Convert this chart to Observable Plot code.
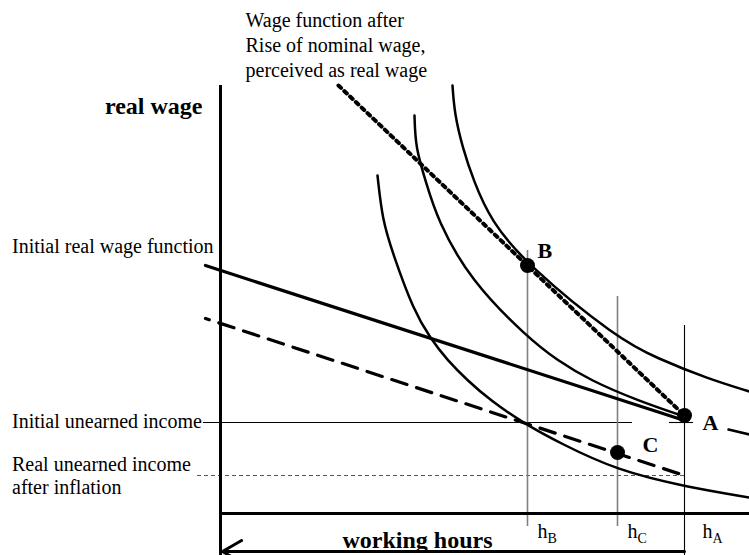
<!DOCTYPE html>
<html><head><meta charset="utf-8">
<script src="https://cdn.jsdelivr.net/npm/d3@7"></script>
<script src="https://cdn.jsdelivr.net/npm/@observablehq/plot@0.6"></script>
<style>html,body{margin:0;padding:0;background:#fff;} #chart svg{display:block;}</style>
</head><body><div id="chart"></div>
<script>
// Units: x = working-time axis (0 at the vertical axis), y = real wage (0 at the horizontal axis)
const indiffLow  = [[31.4,67.6],[32.4,58.6],[34.4,52.2],[38.6,40.6],[42,35],[45.4,30.6],[49.4,26.6],[54,22.6],[60.4,18.2],[68,14],[79.4,8.6],[92.8,5.4],[105.8,3.2]];
const indiffMid  = [[38.8,79.6],[39,73.2],[41,66.6],[43.4,58.6],[50,46.6],[61.4,35.2],[67.4,30.6],[74,26.6],[83.4,22.6],[92.8,19.4]];
const indiffMidTail = [[101.6,16.8],[105.8,15.8]];
const indiffHigh = [[46.4,85.6],[46.8,80],[48.4,73.2],[50.6,66.6],[54,58.6],[61.4,49.6],[79.4,35],[87.4,31],[97.4,27],[105.8,24.4]];
const wageInitial   = [[-3,49.6],[92.8,18.6]];
const wageInflation = [[-3,39],[92.8,7.6]];
const wagePerceived = [[23.6,85.6],[92.8,19.6]];
const unearnedInitial = 18.2;
const unearnedReal = 7.6;
const unearnedInitialSpan = [-3.4, 82.4];
const unearnedAtA = [89.8, 94.6];
const unearnedRealSpan = [-4.6, 92.8];

const pointNames = ["B", "C", "A"];
const pointX = [61.4, 79.4, 92.8];
const pointY = [49.6, 12.2, 19.6];
const pointLabelX = [63.4, 84.4, 96.4];
const pointLabelY = [51.2, 12.4, 16.8];

const hourNames = ["B", "C", "A"];
const hourX = [61.4, 79.4, 92.8];
const hourTop = [52.6, 43.4, 37.6];
const hourBottom = [-2.6, -2.6, -8.4];
const hourLabelX = [63.4, 81.4, 96.4];
const hourSubX = [65.4, 83.4, 98.4];

const axisTop = 85.6, axisBottom = -8.4, axisRight = 105.8;
const arrowY = -7.6;

const noteLines = ["Wage function after", "Rise of nominal wage,", "perceived as real wage"];
const noteY = [97.4, 92.4, 87.4];
const leftLabels = ["Initial real wage function", "Initial unearned income", "Real unearned income", "after inflation"];
const leftLabelY = [52.2, 17.2, 8.6, 4];

const seg = (pts) => pts.map(([x, y]) => ({x, y}));

const chart = Plot.plot({
  width: 749, height: 555,
  marginTop: 0, marginRight: 0, marginBottom: 0, marginLeft: 0,
  x: {domain: [0, 100], range: [220, 720], axis: null},
  y: {domain: [0, 100], range: [513, 13], axis: null},
  style: {fontFamily: "Liberation Serif, Times New Roman, serif", background: "white", color: "black", overflow: "visible"},
  marks: [
    // unearned income lines
    Plot.ruleY([unearnedInitial], {x1: unearnedInitialSpan[0], x2: unearnedInitialSpan[1], stroke: "black", strokeWidth: 1.1}),
    Plot.ruleY([unearnedInitial], {x1: unearnedAtA[0], x2: unearnedAtA[1], stroke: "black", strokeWidth: 1.1}),
    Plot.ruleY([unearnedReal], {x1: unearnedRealSpan[0], x2: unearnedRealSpan[1], stroke: "#555", strokeWidth: 1, strokeDasharray: "4,3"}),
    // hour markers
    Plot.ruleX(hourX.slice(0, 2).map((x, i) => ({x, y1: hourTop[i], y2: hourBottom[i]})), {x: "x", y1: "y1", y2: "y2", stroke: "#808080", strokeWidth: 1.6}),
    Plot.ruleX([{x: hourX[2], y1: hourTop[2], y2: hourBottom[2]}], {x: "x", y1: "y1", y2: "y2", stroke: "black", strokeWidth: 1.1}),
    // axes
    Plot.ruleX([0], {y1: axisBottom, y2: axisTop, stroke: "black", strokeWidth: 3}),
    Plot.ruleY([0], {x1: 0, x2: axisRight, stroke: "black", strokeWidth: 3}),
    Plot.arrow([{x1: hourX[2], x2: 0.4, y: arrowY}], {x1: "x1", x2: "x2", y1: "y", y2: "y", stroke: "black", strokeWidth: 3, headLength: 11, headAngle: 60}),
    // indifference curves
    Plot.line(seg(indiffLow), {x: "x", y: "y", curve: "basis", stroke: "black", strokeWidth: 2.5}),
    Plot.line(seg(indiffMid), {x: "x", y: "y", curve: "basis", stroke: "black", strokeWidth: 2.5}),
    Plot.line(seg(indiffMidTail), {x: "x", y: "y", stroke: "black", strokeWidth: 2.5}),
    Plot.line(seg(indiffHigh), {x: "x", y: "y", curve: "basis", stroke: "black", strokeWidth: 2.5}),
    // wage functions
    Plot.line(seg(wageInitial), {x: "x", y: "y", stroke: "black", strokeWidth: 3.2}),
    Plot.line(seg(wageInflation), {x: "x", y: "y", stroke: "black", strokeWidth: 3.2, strokeDasharray: "16,10", strokeDashoffset: 12}),
    Plot.line(seg(wagePerceived), {x: "x", y: "y", stroke: "black", strokeWidth: 4, strokeDasharray: "3.5,4.5"}),
    // points
    Plot.dot(pointNames.map((n, i) => ({n, x: pointX[i], y: pointY[i]})), {x: "x", y: "y", r: 7.5, fill: "black", stroke: "none"}),
    Plot.text(pointNames.map((n, i) => ({n, x: pointLabelX[i], y: pointLabelY[i]})), {x: "x", y: "y", text: "n", textAnchor: "start", lineAnchor: "bottom", fontSize: 22, fontWeight: "bold", fill: "black"}),
    // hour labels
    Plot.text(hourNames.map((n, i) => ({n, x: hourLabelX[i]})), {x: "x", y: -4.8, text: () => "h", textAnchor: "start", lineAnchor: "bottom", fontSize: 20, fill: "black"}),
    Plot.text(hourNames.map((n, i) => ({n, x: hourSubX[i]})), {x: "x", y: -5.8, text: "n", textAnchor: "start", lineAnchor: "bottom", fontSize: 14, fill: "black"}),
    // titles
    Plot.text(noteLines.map((t, i) => ({t, y: noteY[i]})), {x: 5, y: "y", text: "t", textAnchor: "start", lineAnchor: "bottom", fontSize: 20, fill: "black"}),
    Plot.text(leftLabels.map((t, i) => ({t, y: leftLabelY[i]})), {x: -41.7, y: "y", text: "t", textAnchor: "start", lineAnchor: "bottom", fontSize: 20, fill: "black"}),
    Plot.text(["real wage"], {x: -3.6, y: 80, text: d => d, textAnchor: "end", lineAnchor: "bottom", fontSize: 24, fontWeight: "bold", fill: "black"}),
    Plot.text(["working hours"], {x: 24.4, y: -6.8, text: d => d, textAnchor: "start", lineAnchor: "bottom", fontSize: 24, fontWeight: "bold", fill: "black"})
  ]
});
document.getElementById("chart").appendChild(chart);
</script></body></html>
